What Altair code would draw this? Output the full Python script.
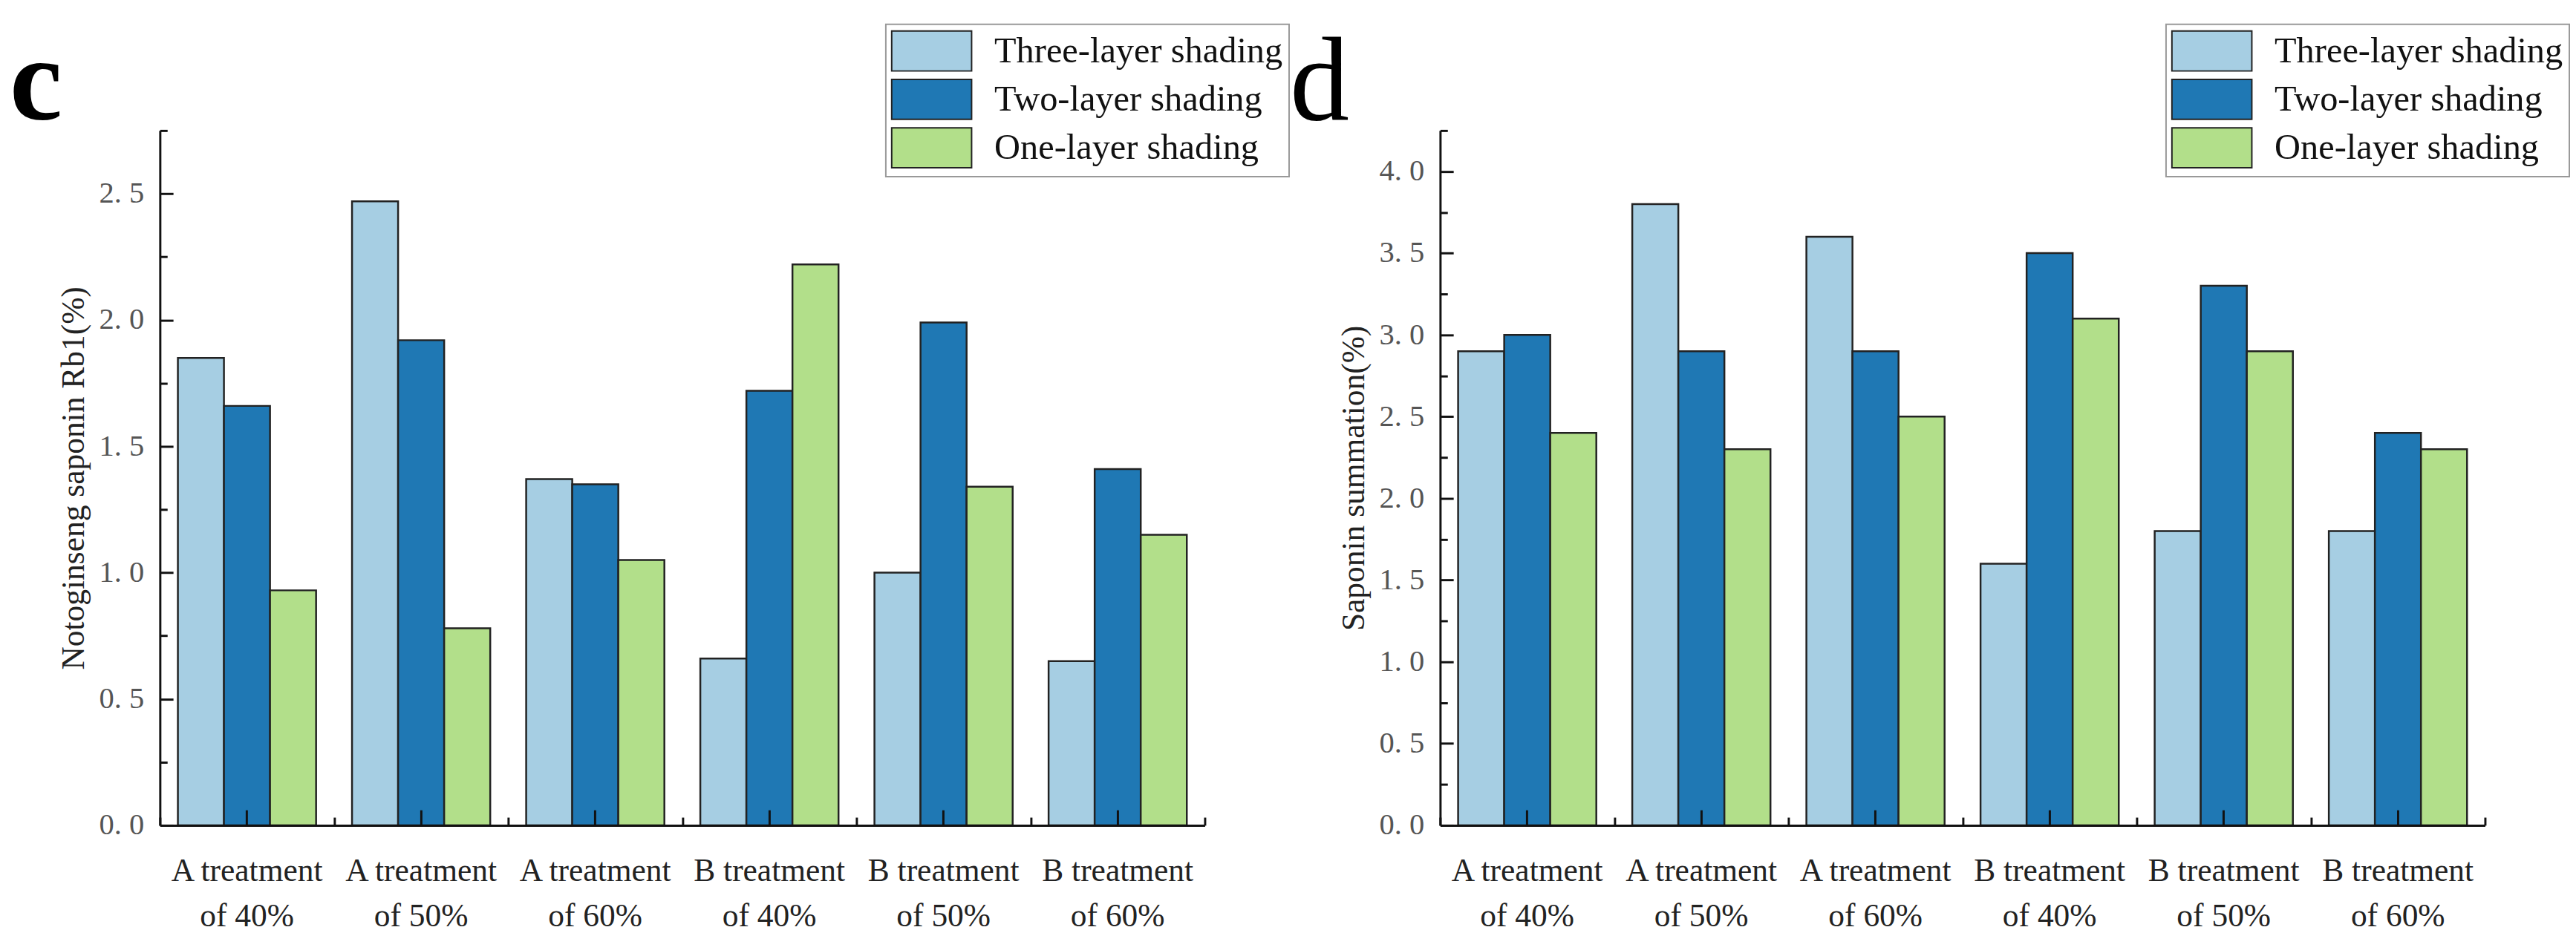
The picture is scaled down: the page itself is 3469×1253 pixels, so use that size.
import altair as alt
import pandas as pd

# categories and series
groups = ["A treatment of 40%", "A treatment of 50%", "A treatment of 60%",
          "B treatment of 40%", "B treatment of 50%", "B treatment of 60%"]
series = ["Three-layer shading", "Two-layer shading", "One-layer shading"]
colors = ["#a6cee3", "#1f78b4", "#b2df8a"]

# panel c: Notoginseng saponin Rb1 (%)
rb1_three = [1.85, 2.47, 1.37, 0.66, 1.00, 0.65]
rb1_two = [1.66, 1.92, 1.35, 1.72, 1.99, 1.41]
rb1_one = [0.93, 0.78, 1.05, 2.22, 1.34, 1.15]

# panel d: saponin summation (%)
sum_three = [2.9, 3.8, 3.6, 1.6, 1.8, 1.8]
sum_two = [3.0, 2.9, 2.9, 3.5, 3.3, 2.4]
sum_one = [2.4, 2.3, 2.5, 3.1, 2.9, 2.3]

W, H = 1425, 948
SERIF = "Liberation Serif"
MAJOR_TEST = "abs(datum.value * 2 - round(datum.value * 2)) < 0.01"


def long_table(three, two, one):
    rows = []
    for name, vals in zip(series, [three, two, one]):
        for g, v in zip(groups, vals):
            rows.append({"group": g, "series": name, "value": v})
    return pd.DataFrame(rows)


def panel(df, letter, weight, ytitle, ymax):
    n_major = int(round(ymax / 0.5))
    n_minor = int(round(ymax / 0.25))
    major = [i * 0.5 for i in range(n_major + 1) if i * 0.5 <= ymax]
    minor = [i * 0.25 for i in range(n_minor + 1)]
    xscale = alt.Scale(domain=groups, paddingInner=0, paddingOuter=0)
    yscale = alt.Scale(domain=[0, ymax], nice=False, zero=True)
    base = alt.Chart(df)

    bars = base.mark_bar(stroke="#222", strokeWidth=2.5, opacity=1).encode(
        x=alt.X("group:N", sort=groups, scale=xscale,
                axis=alt.Axis(orient="bottom", title=None, ticks=False, tickSize=0,
                              domainColor="#111", domainWidth=3, labelAngle=0,
                              labelFont=SERIF, labelFontSize=44, labelColor="#222",
                              labelBaseline="top", labelPadding=41, labelLineHeight=61,
                              labelLimit=1000,
                              labelExpr="[slice(datum.label, 0, 11), slice(datum.label, 12)]",
                              zindex=1)),
        xOffset=alt.XOffset("series:N", sort=series,
                            scale=alt.Scale(paddingInner=0, paddingOuter=0.39)),
        y=alt.Y("value:Q", scale=yscale, stack=None,
                axis=alt.Axis(orient="left", title=ytitle, values=major, ticks=False, tickSize=0,
                              grid=False, domainColor="#111", domainWidth=3,
                              labelFont=SERIF, labelFontSize=41, labelColor="#555",
                              labelPadding=22,
                              labelExpr="replace(format(datum.value, '.1f'), '.', '. ')",
                              titleFont=SERIF, titleFontSize=44, titleFontWeight="normal",
                              titleColor="#222", titlePadding=12, zindex=1)),
        color=alt.Color("series:N", sort=series,
                        scale=alt.Scale(domain=series, range=colors),
                        legend=alt.Legend(title=None, orient="none", legendX=990, legendY=-145,
                                          symbolType="M-2,-1H2V1H-2Z", symbolSize=2970,
                                          symbolStrokeColor="#222", symbolStrokeWidth=2,
                                          symbolOpacity=1, symbolOffset=26,
                                          labelFont=SERIF, labelFontSize=49,
                                          labelColor="#111", labelOffset=57, labelLimit=1000,
                                          rowPadding=3, padding=8,
                                          strokeColor="#999", fillColor="white")),
    )

    ticks_mid = base.mark_bar(opacity=0).encode(
        x=alt.X("group:N", sort=groups, scale=xscale,
                axis=alt.Axis(orient="top", offset=-H, title=None, labels=False, domain=False,
                              tickSize=21, tickWidth=3, tickColor="#111", tickBand="center",
                              grid=False, zindex=2)),
        y=alt.Y("value:Q", scale=yscale, stack=None,
                axis=alt.Axis(orient="right", offset=-W, title=None, labels=False, domain=False,
                              values=minor, tickWidth=3, tickColor="#111", grid=False,
                              tickSize={"condition": {"test": MAJOR_TEST, "value": 18}, "value": 10},
                              zindex=2)),
    )

    ticks_edge = base.mark_bar(opacity=0).encode(
        x=alt.X("group:N", sort=groups, scale=xscale,
                axis=alt.Axis(orient="top", offset=-H, title=None, labels=False, domain=False,
                              tickSize=11, tickWidth=3, tickColor="#111", tickBand="extent",
                              grid=False, zindex=2)),
        y=alt.Y("value:Q", scale=yscale, stack=None, axis=None),
    )

    tag = alt.Chart(pd.DataFrame({"t": [letter]})).mark_text(
        font=SERIF, fontSize=162, fontWeight=weight, align="left",
        baseline="alphabetic", color="#000"
    ).encode(text="t:N", x=alt.value(-205), y=alt.value(-15))

    return alt.layer(bars, ticks_mid, ticks_edge, tag).resolve_axis(
        x="independent", y="independent"
    ).properties(width=W, height=H)


left = panel(long_table(rb1_three, rb1_two, rb1_one), "c", "bold",
             "Notoginseng saponin Rb1(%)", 2.75)
right = panel(long_table(sum_three, sum_two, sum_one), "d", "normal",
              "Saponin summation(%)", 4.25)

chart = alt.hconcat(left, right, spacing=0).resolve_legend(
    color="independent"
).properties(
    padding={"left": 5, "top": 16, "right": 0, "bottom": 0}
).configure_view(
    stroke=None
).configure_axis(
    grid=False
).configure_legend(
    strokeWidth=2
)

chart.save("out.html", embed_options={"renderer": "svg", "actions": False})
